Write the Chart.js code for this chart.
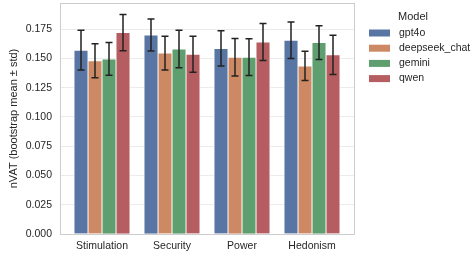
<!DOCTYPE html>
<html>
<head>
<meta charset="utf-8">
<script src="https://cdn.jsdelivr.net/npm/chart.js@4"></script>
<style>
  html, body { margin: 0; padding: 0; background: #fff; }
  #wrap { width: 473px; height: 257px; position: relative; }
</style>
</head>
<body>
<div id="wrap"><canvas id="nvat"></canvas></div>
<script>
// categories and models
var categories = ['Stimulation', 'Security', 'Power', 'Hedonism'];
var models = ['gpt4o', 'deepseek_chat', 'gemini', 'qwen'];

// bootstrap means per model (one value per category)
var meanGpt4o    = [0.157, 0.170, 0.1585, 0.1655];
var meanDeepseek = [0.148, 0.1545, 0.151, 0.1435];
var meanGemini   = [0.1495, 0.158, 0.151, 0.1635];
var meanQwen     = [0.172, 0.1535, 0.164, 0.153];

// bootstrap std per model
var stdGpt4o    = [0.017, 0.0137, 0.015, 0.0155];
var stdDeepseek = [0.0145, 0.0144, 0.016, 0.0125];
var stdGemini   = [0.014, 0.016, 0.0157, 0.0144];
var stdQwen     = [0.0155, 0.0154, 0.0158, 0.0167];

var yTicks = [0, 0.025, 0.05, 0.075, 0.1, 0.125, 0.15, 0.175];

var colors = ['#5975a4', '#cc8963', '#5f9e6e', '#b55d60'];
var means = [meanGpt4o, meanDeepseek, meanGemini, meanQwen];
var stds = [stdGpt4o, stdDeepseek, stdGemini, stdQwen];

var fontFam = '"Liberation Sans", Arial, Helvetica, sans-serif';
var txtColor = '#262626';

var datasets = models.map(function (m, k) {
    return {
        label: m,
        data: means[k].map(function (v, i) { return { x: i, y: v }; }),
        std: stds[k],
        backgroundColor: colors[k],
        borderColor: '#ffffff',
        borderWidth: 0.8,
        barThickness: 14
    };
});

// error bars: mean +- std, drawn through the y scale
var errorBars = {
    id: 'errorBars',
    afterDatasetsDraw: function (chart) {
        var ctx = chart.ctx;
        var ys = chart.scales.y;
        ctx.save();
        ctx.strokeStyle = '#222';
        ctx.lineWidth = 1.5;
        chart.data.datasets.forEach(function (ds, k) {
            var meta = chart.getDatasetMeta(k);
            meta.data.forEach(function (el, i) {
                var v = ds.data[i].y, s = ds.std[i];
                var top = ys.getPixelForValue(v + s);
                var bot = ys.getPixelForValue(v - s);
                ctx.beginPath();
                ctx.moveTo(el.x, top); ctx.lineTo(el.x, bot);
                ctx.moveTo(el.x - 3.5, top); ctx.lineTo(el.x + 3.5, top);
                ctx.moveTo(el.x - 3.5, bot); ctx.lineTo(el.x + 3.5, bot);
                ctx.stroke();
            });
        });
        // axes frame
        var a = chart.chartArea;
        ctx.strokeStyle = '#cccccc';
        ctx.lineWidth = 1;
        ctx.strokeRect(Math.round(a.left) + 0.5, Math.round(a.top) + 0.5,
            Math.round(a.right - a.left), Math.round(a.bottom - a.top));
        ctx.restore();
    }
};

// legend on the right, seaborn style
var sideLegend = {
    id: 'sideLegend',
    afterDraw: function (chart) {
        var ctx = chart.ctx;
        ctx.save();
        ctx.fillStyle = txtColor;
        ctx.font = '11px ' + fontFam;
        ctx.textAlign = 'center';
        ctx.textBaseline = 'middle';
        ctx.fillText('Model', 413, 17);
        ctx.textAlign = 'left';
        ctx.font = '10.5px ' + fontFam;
        chart.data.datasets.forEach(function (ds, k) {
            var y = 33 + k * 15.2;
            ctx.fillStyle = ds.backgroundColor;
            ctx.fillRect(369, y - 3.5, 21, 7);
            ctx.fillStyle = txtColor;
            ctx.fillText(ds.label, 399, y);
        });
        ctx.restore();
    }
};

var ctx = document.getElementById('nvat');
var chart = new Chart(ctx, {
    type: 'bar',
    data: { datasets: datasets },
    plugins: [errorBars, sideLegend],
    options: {
        responsive: true,
        maintainAspectRatio: false,
        animation: false,
        layout: { padding: { top: 3, right: 119, left: 0, bottom: 0 } },
        plugins: {
            legend: { display: false },
            tooltip: { enabled: false }
        },
        scales: {
            x: {
                type: 'linear',
                min: -0.6,
                max: 3.6,
                offset: false,
                grid: { display: false, drawTicks: false },
                border: { display: false },
                afterBuildTicks: function (scale) {
                    scale.ticks = categories.map(function (c, i) { return { value: i }; });
                },
                afterFit: function (scale) {
                    scale.height = 23;
                    scale.paddingLeft = 0;
                    scale.paddingRight = 0;
                },
                ticks: {
                    padding: 6,
                    autoSkip: false,
                    maxRotation: 0,
                    color: txtColor,
                    font: { family: fontFam, size: 10.5 },
                    callback: function (v) { return categories[v]; }
                }
            },
            y: {
                min: 0,
                max: 0.1973,
                grid: { color: '#ebebeb', lineWidth: 1, drawTicks: false },
                border: { display: false },
                afterBuildTicks: function (scale) {
                    scale.ticks = yTicks.map(function (v) { return { value: v }; });
                },
                afterFit: function (scale) {
                    scale.width = 60;
                    scale.paddingTop = 0;
                    scale.paddingBottom = 0;
                },
                title: {
                    display: true,
                    text: 'nVAT (bootstrap mean ± std)',
                    color: txtColor,
                    font: { family: fontFam, size: 11 },
                    padding: { top: 7, bottom: 0 }
                },
                ticks: {
                    padding: 8,
                    color: txtColor,
                    font: { family: fontFam, size: 10.5 },
                    callback: function (v) { return v.toFixed(3); }
                }
            }
        }
    }
});
</script>
</body>
</html>
